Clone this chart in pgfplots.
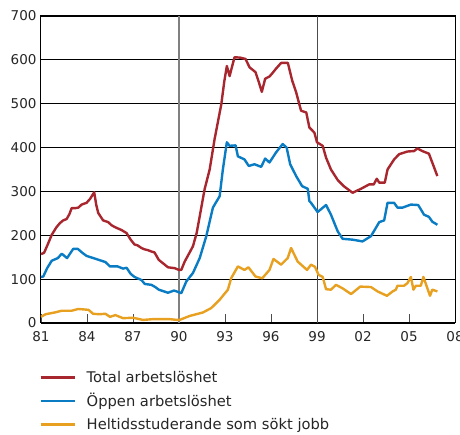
\documentclass[border=0pt]{standalone}
\usepackage{pgfplots}
\pgfplotsset{compat=1.18}
\usepackage{fontspec}
\setmainfont{DejaVu Sans}
\definecolor{cRed}{HTML}{A8262E}
\definecolor{cBlue}{HTML}{0A7CC4}
\definecolor{cOrange}{HTML}{E8A020}
\begin{document}
\begin{tikzpicture}
\useasboundingbox (-41pt,-112pt) rectangle (419pt,323pt);
\begin{axis}[
  at={(0pt,0pt)}, anchor=south west,
  scale only axis, width=414pt, height=307pt,
  xmin=1981, xmax=2008, ymin=0, ymax=700,
  xtick={1981,1984,1987,1990,1993,1996,1999,2002,2005,2008},
  xticklabels={81,84,87,90,93,96,99,02,05,08},
  ytick={0,100,200,300,400,500,600,700},
  /pgf/number format/assume math mode=true,
  tick label style={font=\fontsize{13.5}{16}\selectfont, text=black!85},
  ymajorgrids, major grid style={black, line width=1.1pt},
  axis line style={black, line width=1pt},
  x axis line style={line width=2pt},
  xtick pos=bottom, ytick pos=left,
  tick align=inside, major tick length=9pt,
  xtick style={black!70, line width=0.8pt},
  ytick style={draw=none},
  xticklabel style={yshift=-5pt},
  yticklabel style={xshift=-1pt},
  clip=false,
  legend style={at={(-0.012,-0.146)}, anchor=north west, draw=none, fill=none,
    font=\fontsize{14.7}{17.6}\selectfont, text=black!85, row sep=7.8pt,
    nodes={inner sep=1pt}},
  legend cell align=left,
  legend image code/.code={\draw[#1, line width=2.6pt] (0pt,0pt) -- (34pt,0pt); \path (44pt,0pt);},
  every axis plot/.append style={line width=2.4pt, line join=round},
]
\draw[gray, line width=1.3pt] (axis cs:1990,0) -- (axis cs:1990,700);
\draw[black!70, line width=0.9pt] (axis cs:1999,0) -- (axis cs:1999,700);
\addplot[cRed] coordinates {
(1981.0,157)(1981.2,160)(1981.45,180)(1981.7,201)(1982.0,218)(1982.24,228)(1982.45,234)(1982.67,237)(1982.85,248)(1983.0,262)(1983.25,262)(1983.43,263)(1983.65,270)(1983.97,274)(1984.2,283)(1984.47,298)(1984.6,270)(1984.73,251)(1985.05,234)(1985.38,230)(1985.6,223)(1985.8,219)(1986.05,215)(1986.25,212)(1986.58,205)(1986.85,190)(1987.1,179)(1987.3,177)(1987.55,171)(1987.75,168)(1987.98,166)(1988.2,163)(1988.4,161)(1988.68,144)(1989.0,135)(1989.28,127)(1989.5,126)(1989.72,125)(1990.0,121)(1990.15,121)(1990.37,140)(1990.65,158)(1990.91,175)(1991.15,205)(1991.35,243)(1991.67,305)(1992.0,350)(1992.32,419)(1992.76,499)(1992.95,550)(1993.12,586)(1993.3,563)(1993.62,606)(1994.0,605)(1994.34,602)(1994.6,583)(1994.99,572)(1995.2,550)(1995.4,527)(1995.62,557)(1995.9,562)(1996.1,570)(1996.33,580)(1996.66,593)(1997.1,593)(1997.38,553)(1997.64,526)(1997.96,484)(1998.3,480)(1998.5,446)(1998.83,434)(1999.0,412)(1999.37,404)(1999.59,377)(1999.91,350)(2000.35,326)(2000.78,311)(2001.32,297)(2001.87,306)(2002.4,316)(2002.7,316)(2002.9,329)(2003.06,320)(2003.42,320)(2003.6,350)(2004.03,373)(2004.36,385)(2004.9,391)(2005.33,392)(2005.55,398)(2005.87,392)(2006.3,386)(2006.85,335)
};
\addlegendentry{Total arbetslöshet}
\addplot[cBlue] coordinates {
(1981.0,105)(1981.15,106)(1981.4,125)(1981.7,142)(1982.1,148)(1982.35,158)(1982.7,148)(1983.1,169)(1983.4,169)(1983.7,160)(1983.97,153)(1984.5,147)(1985.2,139)(1985.5,129)(1986.0,129)(1986.35,124)(1986.58,126)(1986.85,112)(1987.1,105)(1987.55,98)(1987.77,89)(1988.2,87)(1988.45,82)(1988.68,76)(1989.28,69)(1989.67,74)(1989.85,72)(1990.15,68)(1990.48,95)(1990.91,114)(1991.35,148)(1991.78,198)(1992.21,263)(1992.65,289)(1992.86,350)(1993.12,412)(1993.3,404)(1993.69,405)(1993.84,380)(1994.27,373)(1994.55,358)(1994.92,362)(1995.36,356)(1995.62,375)(1995.9,366)(1996.33,389)(1996.76,408)(1997.02,400)(1997.25,362)(1997.64,335)(1998.03,312)(1998.4,306)(1998.5,278)(1998.61,274)(1999.04,253)(1999.59,269)(1999.91,247)(2000.35,209)(2000.67,192)(2001.32,190)(2001.97,186)(2002.52,198)(2003.06,230)(2003.38,234)(2003.6,274)(2004.03,274)(2004.25,263)(2004.57,263)(2005.12,270)(2005.6,269)(2005.98,247)(2006.3,242)(2006.52,231)(2006.85,224)
};
\addlegendentry{Öppen arbetslöshet}
\addplot[cOrange] coordinates {
(1981.0,14)(1981.3,20)(1981.9,24)(1982.35,28)(1983.0,28)(1983.43,32)(1984.1,30)(1984.4,21)(1984.8,20)(1985.2,21)(1985.5,14)(1985.85,18)(1986.35,11)(1987.0,12)(1987.65,7)(1988.4,9)(1989.3,9)(1989.9,7)(1990.04,7)(1990.69,16)(1991.56,24)(1992.1,34)(1992.65,53)(1993.19,76)(1993.4,102)(1993.84,129)(1994.27,121)(1994.53,127)(1994.99,106)(1995.43,102)(1995.9,121)(1996.16,146)(1996.66,133)(1997.09,148)(1997.31,171)(1997.74,140)(1998.35,121)(1998.61,133)(1998.87,128)(1999.1,110)(1999.37,105)(1999.59,77)(1999.91,76)(2000.24,87)(2000.67,79)(2001.22,66)(2001.82,83)(2002.52,82)(2002.95,72)(2003.56,62)(2003.93,72)(2004.14,76)(2004.25,85)(2004.68,85)(2004.9,91)(2005.12,105)(2005.29,76)(2005.45,85)(2005.77,85)(2005.94,105)(2006.16,83)(2006.37,62)(2006.52,76)(2006.85,72)
};
\addlegendentry{Heltidsstuderande som sökt jobb}
\end{axis}
\end{tikzpicture}
\end{document}
